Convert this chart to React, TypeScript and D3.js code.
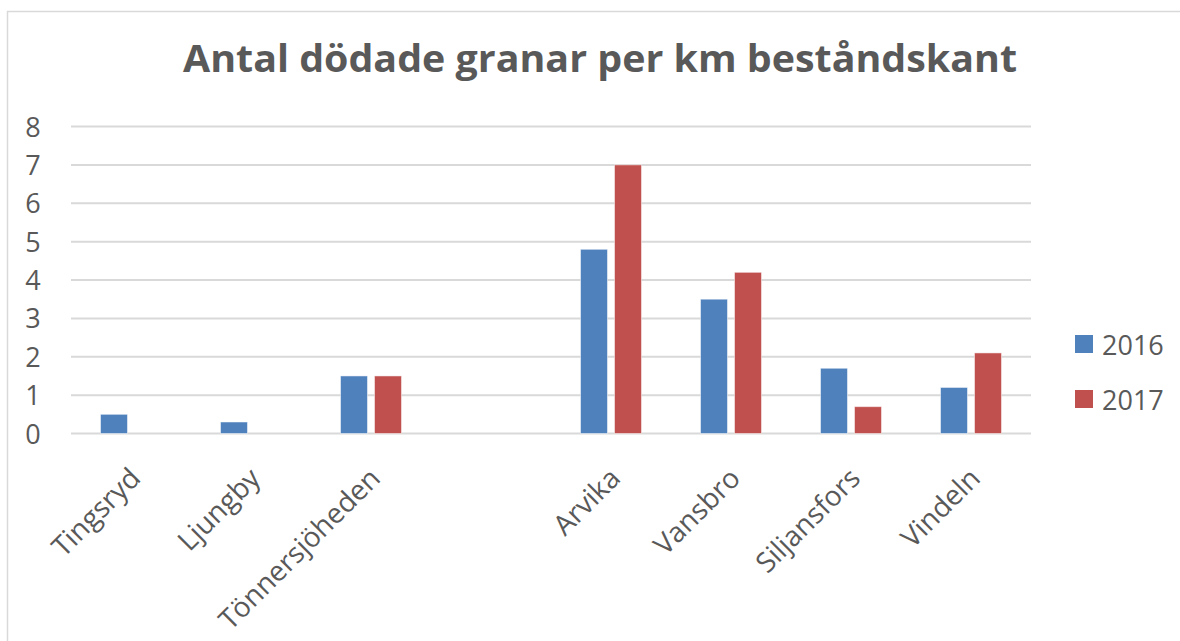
import React from "react";
import * as d3 from "d3";

const categories = ["Tingsryd", "Ljungby", "Tönnersjöheden", "", "Arvika", "Vansbro", "Siljansfors", "Vindeln"];
const series2016 = [0.5, 0.3, 1.5, null, 4.8, 3.5, 1.7, 1.2];
const series2017 = [null, null, 1.5, null, 7.0, 4.2, 0.7, 2.1];
const seriesNames = ["2016", "2017"];
const colors = ["#4F81BD", "#C0504D"];
const yTicks = [0, 1, 2, 3, 4, 5, 6, 7, 8];
const title = "Antal dödade granar per km beståndskant";

export default function App() {
  const W = 1180, H = 641;
  const left = 71, right = 1031, top = 126.5, bottom = 433.5;
  const x = d3.scaleBand<number>().domain(d3.range(categories.length)).range([left, right]).padding(0);
  const y = d3.scaleLinear().domain([0, 8]).range([bottom, top]);
  const bw = 27, gap = 7;
  const font = "'Open Sans', 'DejaVu Sans', sans-serif";
  const data = [series2016, series2017];
  return (
    <svg width={W} height={H} style={{ position: "absolute", left: 0, top: 0, background: "#fff" }}>
      <rect x={7.5} y={11.5} width={W} height={H} fill="#fff" stroke="#D9D9D9" strokeWidth={1.5} />
      <text x={600} y={72} textAnchor="middle" fontFamily={font} fontWeight="bold" fontSize={38} fill="#595959" textLength={834} lengthAdjust="spacingAndGlyphs">{title}</text>
      {yTicks.map((t) => (
        <g key={t}>
          <line x1={left} x2={right} y1={y(t)} y2={y(t)} stroke="#D9D9D9" strokeWidth={2} />
          <text x={33} y={y(t) + 10} textAnchor="middle" fontFamily={font} fontSize={27} fill="#595959">{t}</text>
        </g>
      ))}
      {data.map((s, si) =>
        s.map((v, i) => {
          if (v == null) return null;
          const cx = x(i)! + x.bandwidth() / 2;
          const bx = si === 0 ? cx - gap / 2 - bw : cx + gap / 2;
          return (
            <rect key={si + "-" + i} x={bx} y={y(v)} width={bw} height={bottom - y(v)} fill={colors[si]} stroke="#ffffff" strokeOpacity={0.5} strokeWidth={1} />
          );
        })
      )}
      {categories.map((c, i) => {
        const cx = x(i)! + x.bandwidth() / 2;
        return (
          <text key={c + i} transform={`translate(${cx + 11},${480}) rotate(-45)`} textAnchor="end" fontFamily={font} fontSize={28} fill="#595959">{c}</text>
        );
      })}
      {seriesNames.map((n, i) => (
        <g key={n}>
          <rect x={1075} y={335 + i * 55} width={18} height={18} fill={colors[i]} />
          <text x={1102} y={355 + i * 55} fontFamily={font} fontSize={27} fill="#595959">{n}</text>
        </g>
      ))}
    </svg>
  );
}
